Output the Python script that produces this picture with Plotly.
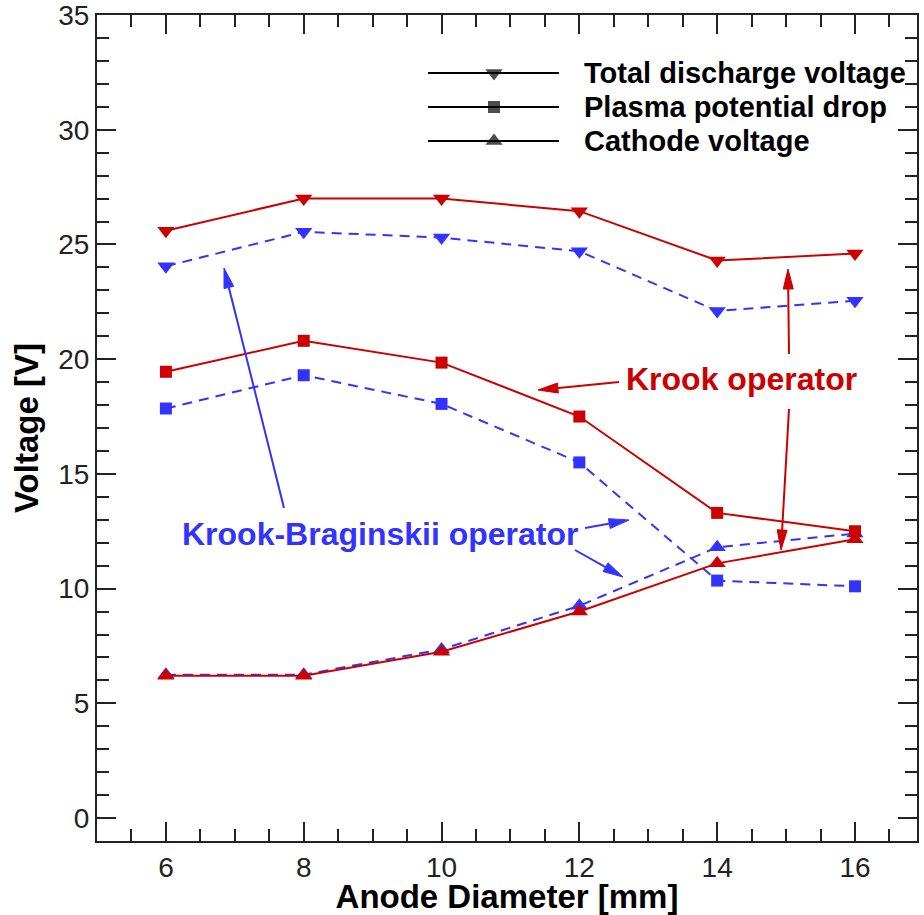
import math
import plotly.graph_objects as go

# ---- data ----
diameter = [6, 8, 10, 12, 14, 16]

# Krook operator (red, solid)
krook_total = [25.6, 27.0, 27.0, 26.45, 24.3, 24.6]
krook_plasma = [19.45, 20.8, 19.85, 17.5, 13.3, 12.5]
krook_cathode = [6.2, 6.2, 7.25, 9.0, 11.1, 12.15]

# Krook-Braginskii operator (blue, dashed)
kb_total = [24.05, 25.55, 25.3, 24.7, 22.1, 22.55]
kb_plasma = [17.85, 19.3, 18.05, 15.5, 10.35, 10.1]
kb_cathode = [6.25, 6.25, 7.35, 9.25, 11.8, 12.4]

legend_labels = ["Total discharge voltage", "Plasma potential drop", "Cathode voltage"]
symbols = ["triangle-down", "square", "triangle-up"]

RED = "rgb(204,0,0)"
BLUE = "rgb(51,51,255)"
FONT = "Liberation Sans, Arial, sans-serif"

fig = go.Figure()

msize = {"triangle-down": 15, "square": 12, "triangle-up": 15}

for ys, sym in zip([kb_total, kb_plasma, kb_cathode], symbols):
    fig.add_trace(go.Scatter(
        x=diameter, y=ys, mode="lines+markers",
        line=dict(color=BLUE, width=2, dash="10px,7px"),
        marker=dict(symbol=sym, size=msize[sym], color=BLUE, line=dict(width=0)),
        showlegend=False, hoverinfo="skip"))

for ys, sym in zip([krook_total, krook_plasma, krook_cathode], symbols):
    fig.add_trace(go.Scatter(
        x=diameter, y=ys, mode="lines+markers",
        line=dict(color=RED, width=2),
        marker=dict(symbol=sym, size=msize[sym], color=RED, line=dict(width=0)),
        showlegend=False, hoverinfo="skip"))

# ---- custom legend on pixel overlay axes ----
leg_rows = [73, 107, 141]
for row, sym, lab in zip(leg_rows, symbols, legend_labels):
    fig.add_trace(go.Scatter(
        x=[428, 494, 559], y=[row, row, row], mode="lines+markers",
        xaxis="x2", yaxis="y2",
        line=dict(color="black", width=2),
        marker=dict(symbol=sym, size=[0, msize[sym], 0], color="black", line=dict(width=0)),
        showlegend=False, hoverinfo="skip"))
    fig.add_annotation(x=582, y=row, xref="x2", yref="y2", text=f"<b>{lab}</b>",
                       showarrow=False, xanchor="left", yanchor="middle",
                       font=dict(family=FONT, size=29, color="black"))

# ---- annotations ----
fig.add_annotation(x=741, y=379, xref="x2", yref="y2", text="<b>Krook operator</b>",
                   showarrow=False, xanchor="center", yanchor="middle",
                   font=dict(family=FONT, size=32, color=RED))
fig.add_annotation(x=380, y=534, xref="x2", yref="y2", text="<b>Krook-Braginskii operator</b>",
                   showarrow=False, xanchor="center", yanchor="middle",
                   font=dict(family=FONT, size=32, color=BLUE))

# arrows drawn in the pixel overlay frame: (tail_x, tail_y, head_x, head_y, colour)
arrows = [
    (619, 382, 538, 390, RED),
    (789, 354, 788, 269, RED),
    (789, 409, 781, 550, RED),
    (284, 508, 224, 268, BLUE),
    (585, 528, 629, 520, BLUE),
    (575, 550, 623, 577, BLUE),
]
HEAD_LEN, HEAD_HALF = 20, 5
for tx, ty, hx, hy, c in arrows:
    dx, dy = hx - tx, hy - ty
    L = math.hypot(dx, dy)
    ux, uy = dx / L, dy / L
    bx, by = hx - ux * HEAD_LEN, hy - uy * HEAD_LEN
    px, py = -uy, ux
    fig.add_shape(type="line", xref="x2", yref="y2", x0=tx, y0=ty, x1=bx + ux * 2, y1=by + uy * 2,
                  line=dict(color=c, width=2))
    path = (f"M{hx},{hy} L{bx + px * HEAD_HALF},{by + py * HEAD_HALF} "
            f"L{bx - px * HEAD_HALF},{by - py * HEAD_HALF} Z")
    fig.add_shape(type="path", xref="x2", yref="y2", path=path,
                  fillcolor=c, line=dict(color=c, width=1))

axis_common = dict(
    showgrid=False, zeroline=False, showline=True, linecolor="#222", linewidth=2,
    mirror="allticks", ticks="inside", ticklen=19, tickwidth=2, tickcolor="#222",
    tickfont=dict(family=FONT, size=28, color="#222"), automargin=False,
    ticklabeloverflow="allow",
)

fig.update_layout(
    width=924, height=915,
    margin=dict(l=97, r=7, t=15, b=74),
    paper_bgcolor="white", plot_bgcolor="white",
    xaxis=dict(range=[5, 16.9], tickvals=[6, 8, 10, 12, 14, 16],
               minor=dict(dtick=0.5, tick0=5, ticks="inside", ticklen=12, tickwidth=1.5, tickcolor="#222"),
               title=dict(text="<b>Anode Diameter [mm]</b>", standoff=10,
                          font=dict(family=FONT, size=33, color="black")),
               **axis_common),
    yaxis=dict(range=[-1, 35], tickvals=[0, 5, 10, 15, 20, 25, 30, 35],
               minor=dict(dtick=1, tick0=0, ticks="inside", ticklen=12, tickwidth=1.5, tickcolor="#222"),
               title=dict(text="<b>Voltage [V]</b>", standoff=10,
                          font=dict(family=FONT, size=33, color="black")),
               **axis_common),
    xaxis2=dict(overlaying="x", range=[97, 917], visible=False, fixedrange=True),
    yaxis2=dict(overlaying="y", range=[841, 15], visible=False, fixedrange=True),
)

fig.write_html("out.html")
